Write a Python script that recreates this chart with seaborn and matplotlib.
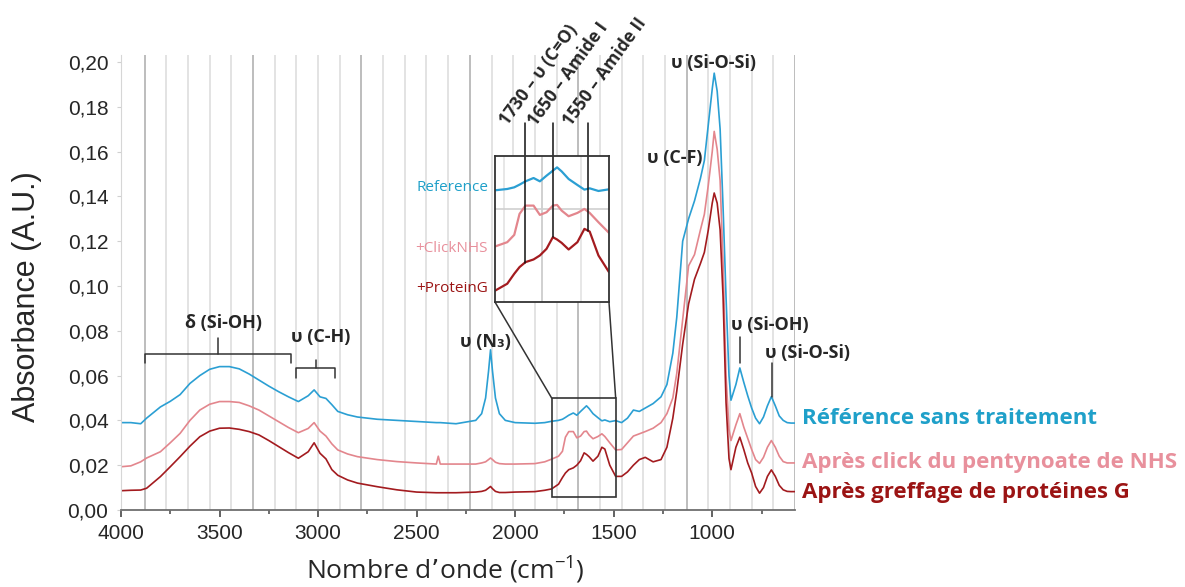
"""
Spectres IR (ATR) : référence, après click NHS, après greffage protéine G
Sortie -> out.png
"""

import numpy as np
import pandas as pd
import matplotlib
matplotlib.use("Agg")
import matplotlib.pyplot as plt
import matplotlib.ticker as mticker
from matplotlib.patches import Rectangle, ConnectionPatch
import seaborn as sns

# ── Données ───────────────────────────────────────────────
nombre_onde = [4000, 3950, 3900, 3870, 3800, 3750, 3700, 3650, 3600, 3550,
               3500, 3450, 3400, 3350, 3300, 3250, 3200, 3150, 3100, 3050,
               3020, 2990, 2960, 2930, 2900, 2850, 2800, 2700, 2600, 2500,
               2400, 2390, 2380, 2300, 2200, 2170, 2150, 2135, 2125, 2115,
               2100, 2080, 2050, 2000, 1900, 1850, 1815, 1780, 1760, 1745,
               1728, 1705, 1687, 1668, 1650, 1638, 1625, 1605, 1580, 1560,
               1545, 1520, 1490, 1460, 1430, 1400, 1370, 1340, 1300, 1260,
               1230, 1200, 1180, 1150, 1120, 1090, 1060, 1040, 1020, 1000,
               990, 975, 960, 945, 930, 915, 905, 880, 860, 840,
               820, 800, 780, 760, 740, 720, 700, 680, 660, 640,
               620, 600, 580]

abs_reference = [.0390, .0390, .0385, .0410, .0460, .0485, .0515, .0565, .0600, .0628,
                 .0640, .0640, .0630, .0607, .0580, .0553, .0528, .0505, .0484, .0510,
                 .0536, .0505, .0498, .0470, .0440, .0425, .0415, .0405, .0400, .0395,
                 .0390, .0390, .0390, .0385, .0400, .0430, .0500, .0620, .0715, .0620,
                 .0500, .0430, .0400, .0390, .0387, .0390, .0396, .0400, .0405, .0413,
                 .0423, .0433, .0423, .0440, .0455, .0465, .0453, .0430, .0412, .0398,
                 .0402, .0394, .0399, .0390, .0410, .0446, .0440, .0455, .0475, .0505,
                 .0560, .0700, .0860, .1200, .1300, .1380, .1480, .1560, .1720, .1880,
                 .1950, .1870, .1700, .1350, .0950, .0600, .0490, .0560, .0634, .0570,
                 .0510, .0455, .0410, .0385, .0415, .0465, .0506, .0465, .0420, .0400,
                 .0390, .0388, .0388]

abs_click = [.0193, .0197, .0215, .0232, .0260, .0300, .0342, .0400, .0446, .0472,
             .0484, .0484, .0480, .0465, .0446, .0420, .0394, .0368, .0345, .0364,
             .0390, .0352, .0330, .0295, .0268, .0250, .0238, .0225, .0216, .0210,
             .0205, .0240, .0205, .0205, .0205, .0210, .0215, .0225, .0232, .0225,
             .0213, .0207, .0205, .0205, .0207, .0215, .0227, .0240, .0262, .0325,
             .0350, .0350, .0322, .0330, .0350, .0352, .0335, .0318, .0328, .0340,
             .0328, .0300, .0268, .0270, .0300, .0330, .0340, .0350, .0365, .0390,
             .0430, .0500, .0610, .0850, .1090, .1140, .1250, .1320, .1450, .1600,
             .1690, .1610, .1470, .1100, .0600, .0360, .0310, .0380, .0430, .0370,
             .0320, .0270, .0225, .0208, .0235, .0280, .0310, .0280, .0240, .0216,
             .0210, .0210, .0210]

abs_proteine = [.0086, .0088, .0089, .0097, .0149, .0193, .0238, .0285, .0327, .0352,
                .0365, .0366, .0360, .0350, .0335, .0310, .0283, .0256, .0231, .0260,
                .0300, .0253, .0228, .0180, .0155, .0134, .0120, .0104, .0090, .0080,
                .0077, .0077, .0077, .0077, .0080, .0083, .0088, .0098, .0105, .0095,
                .0083, .0078, .0078, .0080, .0082, .0088, .0094, .0115, .0145, .0165,
                .0180, .0188, .0200, .0220, .0255, .0248, .0238, .0218, .0240, .0280,
                .0272, .0200, .0150, .0150, .0170, .0200, .0225, .0235, .0215, .0225,
                .0280, .0410, .0530, .0740, .0920, .1030, .1100, .1150, .1250, .1370,
                .1415, .1370, .1250, .0950, .0480, .0230, .0180, .0280, .0325, .0270,
                .0210, .0165, .0105, .0075, .0100, .0150, .0179, .0150, .0110, .0090,
                .0083, .0082, .0082]

series = ["Référence sans traitement",
          "Après click du pentynoate de NHS",
          "Après greffage de protéines G"]
labels_inset = ["Reference", "+ClickNHS", "+ProteinG"]
couleurs_ligne = ["#2b9fd3", "#e3868d", "#a31b1f"]
couleurs_texte = ["#1fa0c9", "#e8909c", "#9b1414"]

# bandes annotées dans l'encart (cm-1)
bandes_inset = [1730, 1650, 1550]
textes_bandes = ["1730 – υ (C=O)", "1650 – Amide I", "1550 – Amide II"]

# fenêtre du zoom
ZOOM_X = (1815, 1490)
ZOOM_Y = (0.006, 0.050)

# ── Mise en forme ─────────────────────────────────────────
sns.set_style("white")
plt.rcParams["font.family"] = ["Liberation Sans", "DejaVu Sans"]
plt.rcParams["mathtext.default"] = "regular"
FONT_ANN = ["Open Sans", "DejaVu Sans"]
GRIS_TXT = "#262626"

df = pd.DataFrame({
    "onde": nombre_onde * 3,
    "abs": abs_reference + abs_click + abs_proteine,
    "serie": np.repeat(series, len(nombre_onde)),
})
palette = dict(zip(series, couleurs_ligne))

fig = plt.figure(figsize=(11.85, 5.87), dpi=100)
ax = fig.add_axes([0.1021, 0.1312, 0.5688, 0.7751])

# grille verticale (une ligne foncée sur cinq)
grille = np.arange(3880, 575, -110)
for k, g in enumerate(grille):
    ax.axvline(g, color="#bdbdbd" if k % 5 == 0 else "#e3e3e3",
               lw=1.4, zorder=0)

sns.lineplot(data=df, x="onde", y="abs", hue="serie", palette=palette,
             estimator=None, errorbar=None, legend=False, lw=1.2, ax=ax)

ax.set_xlim(4000, 580)
ax.set_ylim(0, 0.2031)
ax.xaxis.set_major_locator(mticker.FixedLocator(np.arange(4000, 999, -500)))
ax.xaxis.set_minor_locator(mticker.FixedLocator(np.arange(3750, 580, -500)))
ax.set_yticks(np.arange(0, 0.201, 0.02))
ax.yaxis.set_major_formatter(mticker.FuncFormatter(lambda v, _: f"{v:.2f}".replace(".", ",")))
ax.tick_params(axis="x", which="major", length=5, width=1.3, color="#555555",
               labelsize=15, pad=5, direction="out", bottom=True)
ax.tick_params(axis="x", which="minor", length=3, width=1.2, color="#555555",
               bottom=True)
ax.tick_params(axis="y", length=3, color="#d0d0d0", labelsize=15, pad=6, left=True)
for s in ["top", "right"]:
    ax.spines[s].set_visible(False)
ax.spines["left"].set_color("#d6d6d6")
ax.spines["bottom"].set_color("#6e6e6e")
ax.spines["bottom"].set_linewidth(1.3)

ax.set_xlabel("Nombre d’onde (cm$^{-1}$)", fontsize=19,
              family=["Open Sans", "DejaVu Sans"])
ax.xaxis.set_label_coords(0.481, -0.098)
ax.set_ylabel("Absorbance (A.U.)", fontsize=22)
ax.yaxis.set_label_coords(-0.117, 0.468)

# étiquettes des séries à droite
for nom, vals, c, dy in zip(series, [abs_reference, abs_click, abs_proteine],
                            couleurs_texte, [0.0022, 0, -0.0005]):
    ax.text(1.0104, vals[-1] + dy, nom, transform=ax.get_yaxis_transform(),
            color=c, fontsize=16, fontweight="bold", family=FONT_ANN,
            va="center", ha="left", clip_on=False)

# ── Annotations des bandes ────────────────────────────────
kw = dict(fontsize=13, fontweight="bold", family=FONT_ANN, color=GRIS_TXT,
          ha="center", va="center")
ax.text(3482, 0.0835, "δ (Si-OH)", **kw)
ax.plot([3878, 3878, 3137, 3137], [0.0656, 0.0696, 0.0696, 0.0656], color="#333", lw=1.1)
ax.plot([3508, 3508], [0.0696, 0.0768], color="#333", lw=1.1)

ax.text(2985, 0.0772, "υ (C-H)", **kw)
ax.plot([3113, 3113, 2914, 2914], [0.0588, 0.0633, 0.0633, 0.0588], color="#333", lw=1.1)
ax.plot([3010, 3010], [0.0633, 0.0670], color="#333", lw=1.1)

ax.text(2152, 0.0750, "υ (N₃)", **kw)
ax.text(1188, 0.1570, "υ (C-F)", **kw)
ax.text(995, 0.1996, "υ (Si-O-Si)", **kw)

kw_l = dict(kw, ha="left")
ax.text(905, 0.0826, "υ (Si-OH)", **kw_l)
ax.plot([858, 858], [0.0655, 0.0774], color="#333", lw=1.1)
ax.text(732, 0.0701, "υ (Si-O-Si)", **kw_l)
ax.plot([697, 697], [0.0506, 0.0656], color="#333", lw=1.1)

# rectangle de zoom
ax.add_patch(Rectangle((min(ZOOM_X), ZOOM_Y[0]), abs(ZOOM_X[0] - ZOOM_X[1]),
                       ZOOM_Y[1] - ZOOM_Y[0], fill=False, ec="#333", lw=1.2, zorder=5))

# ── Encart ────────────────────────────────────────────────
ax_in = fig.add_axes([0.4177, 0.4855, 0.0962, 0.2492])
ax_in.set_facecolor("white")
for k, g in enumerate(grille):
    ax_in.axvline(g, color="#c8c8c8" if k % 5 == 0 else "#e3e3e3", lw=1.2, zorder=0)
ax_in.axhline(0.034, color="#d0d0d0", lw=1.2, zorder=0)
sns.lineplot(data=df, x="onde", y="abs", hue="serie", palette=palette,
             estimator=None, errorbar=None, legend=False, lw=1.6, ax=ax_in)
ax_in.set_xlim(*ZOOM_X)
ax_in.set_ylim(*ZOOM_Y)
ax_in.set_xticks([])
ax_in.set_yticks([])
ax_in.set_xlabel("")
ax_in.set_ylabel("")
for s in ax_in.spines.values():
    s.set_color("#333")
    s.set_linewidth(1.3)

# labels de l'encart
i_bord = nombre_onde.index(ZOOM_X[0])
for lab, vals, c, dy in zip(labels_inset, [abs_reference, abs_click, abs_proteine],
                            couleurs_texte, [0.0008, -0.0005, 0.0008]):
    ax_in.text(-0.06, vals[i_bord] + dy, lab, transform=ax_in.get_yaxis_transform(),
               color=c, fontsize=11, family=["Open Sans", "DejaVu Sans"],
               ha="right", va="center")

# traits verticaux + textes inclinés des bandes
onde_inv = nombre_onde[::-1]
prot_inv = abs_proteine[::-1]
for b, t in zip(bandes_inset, textes_bandes):
    y_bas = np.interp(b, onde_inv, prot_inv)
    ax_in.plot([b, b], [y_bas, 0.0597], color="#111", lw=1.1, clip_on=False)
    ax_in.annotate(t, xy=(b, 0.0597), xytext=(-10, -4), textcoords="offset points",
                   rotation=54, rotation_mode="anchor", ha="left", va="bottom",
                   fontsize=12.5, fontweight="bold", family=FONT_ANN, color=GRIS_TXT,
                   annotation_clip=False)

# lignes de liaison encart -> rectangle
for xa, xb in [(0, ZOOM_X[0]), (1, ZOOM_X[1])]:
    con = ConnectionPatch(xyA=(xa, 0), coordsA=ax_in.transAxes,
                          xyB=(xb, ZOOM_Y[1]), coordsB=ax.transData,
                          color="#333", lw=1.1)
    fig.add_artist(con)

fig.savefig("out.png", dpi=100)
